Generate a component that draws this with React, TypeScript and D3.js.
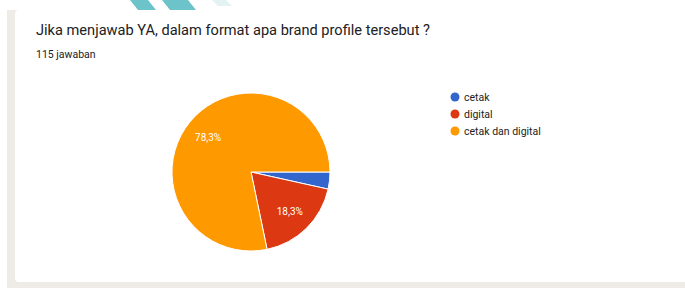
import React from 'react';
import * as d3 from 'd3';

const categories = ['cetak', 'digital', 'cetak dan digital'];
const counts = [4, 21, 90];
const colors = ['#3366cc', '#dc3912', '#ff9900'];
const title = 'Jika menjawab YA, dalam format apa brand profile tersebut ?';
const subtitle = '115 jawaban';

const W = 685;
const H = 288;

export default function App() {
  const cx = 251;
  const cy = 172;
  const r = 79;

  const total = d3.sum(counts);
  const pie = d3.pie<number>().sort(null).startAngle(Math.PI / 2).endAngle(Math.PI / 2 + 2 * Math.PI);
  const arcs = pie(counts);
  const arc = d3.arc<d3.PieArcDatum<number>>().innerRadius(0).outerRadius(r);
  const labelArc = d3.arc<d3.PieArcDatum<number>>().innerRadius(r * 0.7).outerRadius(r * 0.7);
  const fmt = (v: number) => (Math.round((v / total) * 1000) / 10).toFixed(1).replace('.', ',') + '%';

  const legendY = d3.scalePoint<string>().domain(categories).range([97, 131]);

  return (
    <svg width={W} height={H} style={{ position: 'fixed', left: 0, top: 0 }} fontFamily="Roboto, sans-serif">
      <rect x={0} y={0} width={W} height={H} fill="#ffffff" />
      {/* decoration at top */}
      <polygon points="130,0 148,0 156,10 138,10" fill="#6cc3c9" />
      <polygon points="162,0 188,0 196,10 170,10" fill="#6cc3c9" />
      <polygon points="212,0 226,0 232,6 218,6" fill="#e3f2f3" />
      {/* card */}
      <rect x={7} y={10} width={W - 7} height={H - 10} fill="#efebe7" />
      <rect x={15} y={10} width={W} height={272} rx={4} fill="#ffffff" />
      <text x={36} y={35} fontSize={14.6} fill="#202124">{title}</text>
      <text x={36} y={58} fontSize={10.5} fill="#202124">{subtitle}</text>
      <g transform={`translate(${cx},${cy})`}>
        {arcs.map((a, i) => (
          <path key={i} d={arc(a) || ''} fill={colors[i]} stroke="#ffffff" strokeWidth={1} />
        ))}
        {arcs.map((a, i) => {
          if (a.endAngle - a.startAngle < 0.3) return null;
          const [lx, ly] = labelArc.centroid(a);
          return (
            <text key={i} x={lx} y={ly} dy="0.35em" textAnchor="middle" fontSize={10} fill="#ffffff">
              {fmt(a.data)}
            </text>
          );
        })}
      </g>
      <g>
        {categories.map((c, i) => (
          <g key={c} transform={`translate(455,${legendY(c)})`}>
            <circle r={4.5} fill={colors[i]} />
            <text x={9} dy="0.35em" fontSize={10.5} fill="#222222">{c}</text>
          </g>
        ))}
      </g>
    </svg>
  );
}
